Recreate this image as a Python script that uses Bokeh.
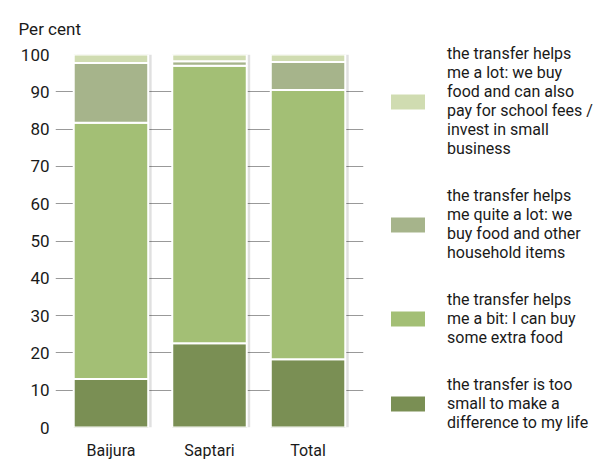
from bokeh.plotting import figure
from bokeh.models import FactorRange, FixedTicker, Legend, LegendItem, ColumnDataSource, Range1d
from bokeh.transform import dodge
from bokeh.embed import file_html
from bokeh.resources import INLINE

districts = ["Baijura", "Saptari", "Total"]
too_small = [13.0, 22.6, 18.3]
a_bit = [68.7, 74.4, 72.2]
quite_a_lot = [16.0, 1.2, 7.5]
a_lot = [2.3, 1.8, 2.0]
y_ticks = [0, 10, 20, 30, 40, 50, 60, 70, 80, 90, 100]

series = ["too_small", "a_bit", "quite_a_lot", "a_lot"]
colors = ["#7a8f54", "#a3bf75", "#a6b48b", "#d0dcb1"]
labels = [
    "the transfer is too\nsmall to make a\ndifference to my life",
    "the transfer helps\nme a bit: I can buy\nsome extra food",
    "the transfer helps\nme quite a lot: we\nbuy food and other\nhousehold items",
    "the transfer helps\nme a lot: we buy\nfood and can also\npay for school fees /\ninvest in small\nbusiness",
]

FONT = "Roboto"

totals = [a + b + c + d for a, b, c, d in zip(too_small, a_bit, quite_a_lot, a_lot)]
src = ColumnDataSource(dict(x=districts, too_small=too_small, a_bit=a_bit,
                            quite_a_lot=quite_a_lot, a_lot=a_lot, total=totals))

p = figure(x_range=FactorRange(*districts, range_padding=0.042),
           y_range=Range1d(0, 100),
           frame_width=308, frame_height=373, output_backend="svg", toolbar_location=None,
           min_border_left=55, min_border_top=54, min_border_right=0, min_border_bottom=32)

# soft shadow behind bars
p.vbar(x=dodge("x", 0.035, range=p.x_range), top="total", bottom=0, width=0.756,
       source=src, fill_color="#000000", fill_alpha=0.12, line_color=None)

rs = p.vbar_stack(series, x="x", width=0.756, source=src, color=colors,
                  line_color="white", line_width=2)

p.title.text = "Per cent"
p.title.align = "left"
p.title.offset = -37
p.title.standoff = 32
p.title.text_font = FONT
p.title.text_font_size = "17px"
p.title.text_font_style = "normal"
p.title.text_color = "#1a1a1a"

p.outline_line_color = None
p.xgrid.grid_line_color = None
p.ygrid.ticker = FixedTicker(ticks=y_ticks)
p.ygrid.grid_line_color = "#999999"
p.ygrid.grid_line_width = 1.2

p.yaxis.ticker = FixedTicker(ticks=y_ticks)
p.yaxis.axis_line_color = None
p.yaxis.major_tick_line_color = None
p.yaxis.minor_tick_line_color = None
p.yaxis.major_tick_out = 0
p.yaxis.major_tick_in = 0
p.yaxis.major_label_standoff = 6
p.yaxis.major_label_text_font = FONT
p.yaxis.major_label_text_font_size = "17px"
p.yaxis.major_label_text_color = "#1a1a1a"

p.xaxis.axis_line_color = None
p.xaxis.major_tick_line_color = None
p.xaxis.major_tick_out = 0
p.xaxis.major_tick_in = 0
p.xaxis.major_label_standoff = 13
p.xaxis.major_label_text_font = FONT
p.xaxis.major_label_text_font_size = "16px"
p.xaxis.major_label_text_color = "#1a1a1a"

items = [LegendItem(label=labels[i], renderers=[rs[i]]) for i in range(3, -1, -1)]
legend = Legend(items=items, location=(22, -5), margin=0, padding=0, spacing=28,
                glyph_width=45, glyph_height=21, label_standoff=17,
                label_text_font=FONT, label_text_font_size="16px",
                label_text_line_height=1.08, label_text_color="#1a1a1a",
                border_line_color=None, background_fill_alpha=0)
p.add_layout(legend, "right")

open("out.html", "w").write(file_html(p, INLINE))
